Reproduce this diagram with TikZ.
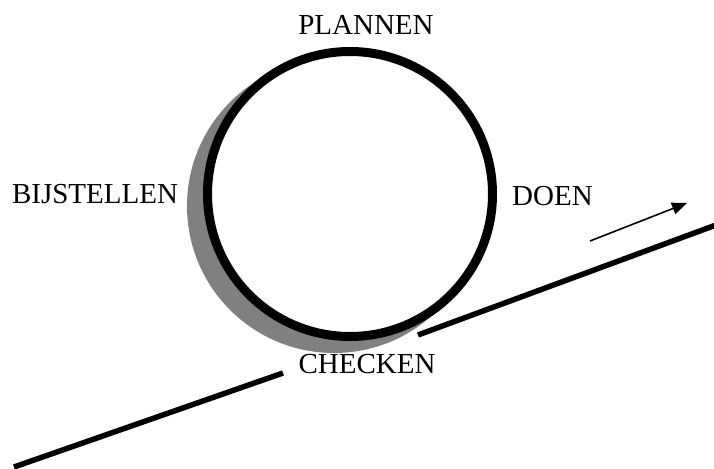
\documentclass[tikz,border=0pt]{standalone}
\usepackage{fontspec}
\setmainfont{Liberation Serif}
\usetikzlibrary{arrows.meta}
\begin{document}
\begin{tikzpicture}[x=1pt,y=-1pt,
  lbl/.style={anchor=base,inner sep=0pt,font=\fontsize{29}{34}\selectfont},
  slope/.style={line width=5.5pt,line cap=butt},
  motion/.style={line width=1.6pt,-{Triangle[length=15pt,width=12pt]}}]
\useasboundingbox (0,0) rectangle (714,468);
\fill[white] (0,0) rectangle (714,468);
% shadow and wheel
\fill[fill={rgb,255:red,128;green,128;blue,128}] (334,206) circle (147);
\node[circle,draw=black,fill=white,line width=9pt,minimum size=285pt,inner sep=0pt] (wheel) at (350,194) {};
% labels
\node[lbl] (plan) at (366,35) {PLANNEN};
\node[lbl] (doen) at (552.5,205) {DOEN};
\node[lbl] (bijst) at (95,203) {BIJSTELLEN};
\node[lbl] (check) at (367,373) {CHECKEN};
% slope
\coordinate (s1) at (14,467);
\coordinate (s2) at (283,373);
\coordinate (s3) at (418,335);
\coordinate (s4) at (716,225);
\draw[slope] (s1) -- (s2);
\draw[slope] (s3) -- (s4);
% arrow
\coordinate (a1) at (590,241);
\coordinate (a2) at (687,203);
\draw[motion] (a1) -- (a2);
\end{tikzpicture}
\end{document}
